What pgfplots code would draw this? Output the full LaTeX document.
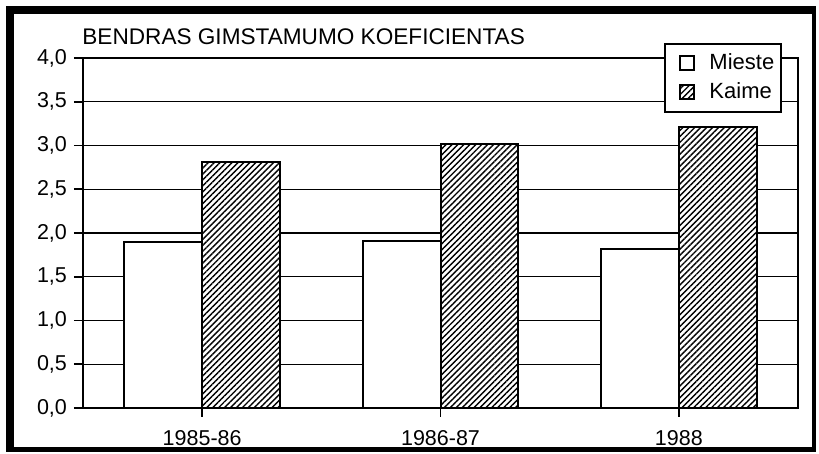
\documentclass[border=0pt]{standalone}
\usepackage{fontspec}
\setmainfont{Liberation Sans}
\usepackage{pgfplots}
\pgfplotsset{compat=1.18}
\usetikzlibrary{patterns.meta}

% 1 px of the reference = 0.5pt
\tikzset{hatch/.style={preaction={fill=white},
  pattern={Lines[angle=45,distance=2.1pt,line width=0.7pt]}}}

\begin{document}
\begin{tikzpicture}[font=\fontsize{10.75}{12}\selectfont]
  \useasboundingbox (0,0) rectangle (409.5pt,227pt);
  \begin{axis}[
      scale only axis,
      at={(41.5pt,23pt)}, anchor=south west,
      width=357.5pt, height=175pt,
      xmin=-0.5, xmax=2.5,
      ymin=0, ymax=4,
      xtick={0,1,2},
      xticklabels={1985-86,1986-87,1988},
      ytick={0,0.5,...,4},
      tick pos=left,
      tick align=outside,
      major tick length=4.5pt,
      tick style={black, line width=0.8pt},
      ymajorgrids,
      grid style={black, line width=0.7pt},
      axis line style={black, line width=1pt},
      /pgf/number format/assume math mode=true,
      yticklabel style={/pgf/number format/.cd, use comma, fixed, fixed zerofill, precision=1},
      xticklabel style={yshift=-3pt},
      legend style={at={(0.978,1.043)}, anchor=north east,
        draw=black, line width=1pt, fill=white,
        inner xsep=1.5pt, inner ysep=3pt,
        font=\fontsize{11}{13}\selectfont,
        cells={anchor=west}, row sep=1pt},
    ]
    \addplot[ybar, bar width=0.326, bar shift=-0.163, draw=black, line width=1pt, fill=white, forget plot]
      coordinates {(0,1.90) (1,1.91) (2,1.82)};
    \addplot[ybar, bar width=0.326, bar shift=0.163, draw=black, line width=1pt, hatch, forget plot]
      coordinates {(0,2.81) (1,3.02) (2,3.21)};

    \addlegendimage{legend image code/.code={\path (-5.5pt,0pt) (12pt,0pt); \draw[black, line width=1pt, fill=white] (0pt,-3.5pt) rectangle (7pt,3.5pt);}}
    \addlegendentry{Mieste}
    \addlegendimage{legend image code/.code={\path (-5.5pt,0pt) (12pt,0pt); \draw[black, line width=1pt, hatch] (0pt,-3.5pt) rectangle (7pt,3.5pt);}}
    \addlegendentry{Kaime}
  \end{axis}

  \node[anchor=base west, inner sep=0pt, font=\fontsize{11.3}{13}\selectfont] at (41pt,204.5pt)
    {BENDRAS GIMSTAMUMO KOEFICIENTAS};

  % outer frame
  \fill[black] (3pt,1pt) rectangle (7pt,224pt);
  \fill[black] (3pt,220pt) rectangle (408pt,224pt);
  \fill[black] (406pt,1pt) rectangle (408pt,224pt);
  \fill[black] (3pt,1pt) rectangle (408pt,3.5pt);
\end{tikzpicture}
\end{document}
